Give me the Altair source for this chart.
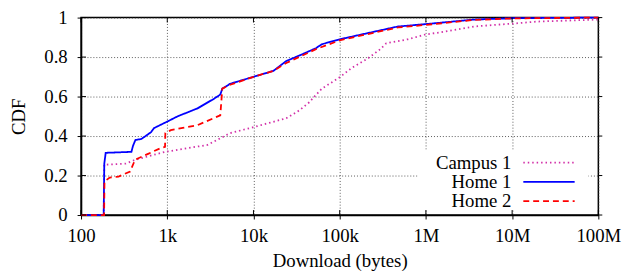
import altair as alt
import pandas as pd

# ---- data ----
home1_x = [100, 183, 186, 193, 384, 400, 427, 500, 650, 700, 1018, 1320, 2240, 3515, 4120, 4350, 5370,
           10000, 17000, 24000, 35000, 53000, 62000, 100000, 260000, 475000, 1e6, 3.6e6, 1.05e7, 1e8]
home1_y = [0, 0, 0.26, 0.315, 0.32, 0.35, 0.38, 0.385, 0.42, 0.44, 0.475, 0.50, 0.54, 0.59, 0.61, 0.64, 0.665,
           0.70, 0.73, 0.78, 0.81, 0.845, 0.865, 0.89, 0.93, 0.955, 0.967, 0.99, 0.997, 1.0]

home2_x = [100, 185, 187, 215, 272, 371, 423, 600, 847, 942, 950, 1100, 2240, 4120, 4350, 5370,
           10000, 17000, 24000, 53000, 100000, 260000, 475000, 1e6, 3.6e6, 1.05e7, 1e8]
home2_y = [0, 0, 0.17, 0.19, 0.195, 0.22, 0.28, 0.31, 0.34, 0.345, 0.415, 0.43, 0.455, 0.505, 0.64, 0.66,
           0.70, 0.73, 0.77, 0.84, 0.885, 0.925, 0.95, 0.963, 0.988, 0.996, 1.0]

campus_x = [100, 183, 186, 327, 427, 942, 2925, 5370, 10000, 24000, 34000, 44000, 62000, 98000, 138000,
            215000, 296000, 347000, 617000, 1e6, 1.48e6, 3.6e6, 1.04e7, 2e7, 1e8]
campus_y = [0, 0, 0.255, 0.26, 0.28, 0.32, 0.355, 0.415, 0.445, 0.49, 0.53, 0.57, 0.64, 0.695, 0.745,
            0.795, 0.84, 0.87, 0.89, 0.915, 0.925, 0.955, 0.97, 0.98, 0.99]

series_names = ["Campus 1", "Home 1", "Home 2"]
series_colors = ["#d22fa8", "#0000ff", "#ff0000"]
series_dash = [[1.5, 3], [1, 0], [6, 4]]

x_ticks = [100, 1000, 10000, 100000, 1e6, 1e7, 1e8]
x_labels = ["100", "1k", "10k", "100k", "1M", "10M", "100M"]
y_ticks = [0, 0.2, 0.4, 0.6, 0.8, 1.0]

FONT = "Liberation Serif"
W, H = 524, 200

rows = []
for name, xs, ys in [("Campus 1", campus_x, campus_y), ("Home 1", home1_x, home1_y), ("Home 2", home2_x, home2_y)]:
    for i, (a, b) in enumerate(zip(xs, ys)):
        rows.append({"series": name, "x": a, "y": b, "order": i})
df = pd.DataFrame(rows)

label_expr = "{" + ",".join(f"'{int(v)}':'{l}'" for v, l in zip(x_ticks, x_labels)) + "}[format(datum.value,'d')]"

xscale = alt.Scale(type="log", domain=[100, 1e8], nice=False)
yscale = alt.Scale(domain=[0, 1], nice=False)

x_axis = alt.Axis(values=x_ticks, labelExpr=label_expr, title="Download (bytes)",
                  grid=True, gridDash=[1, 2], gridColor="#333", gridWidth=0.8,
                  tickSize=4, tickColor="black", domainColor="black",
                  labelPadding=8, titlePadding=6, labelFlush=False, labelOverlap=False)
y_axis = alt.Axis(values=y_ticks, format="~g", title="CDF",
                  grid=True, gridDash=[1, 2], gridColor="#333", gridWidth=0.8,
                  tickSize=4, tickColor="black", domainColor="black",
                  labelPadding=10, titlePadding=16, labelOverlap=False, labelFlush=False)

def X():
    return alt.X("x:Q", scale=xscale, axis=x_axis)

def Y():
    return alt.Y("y:Q", scale=yscale, axis=y_axis)

lines = alt.Chart(df).mark_line(strokeWidth=1.8).encode(
    x=X(),
    y=Y(),
    color=alt.Color("series:N", scale=alt.Scale(domain=series_names, range=series_colors), legend=None),
    strokeDash=alt.StrokeDash("series:N", scale=alt.Scale(domain=series_names, range=series_dash), legend=None),
    order="order:Q",
)

# white box behind legend
box = alt.Chart(pd.DataFrame({"a": [0]})).mark_rect(color="white").encode(
    x=alt.value(341), x2=alt.value(514), y=alt.value(134), y2=alt.value(194))

# inner ticks (mirrored on all sides)
xt = pd.DataFrame({"x": x_ticks})
yt = pd.DataFrame({"y": y_ticks})
tick_bottom = alt.Chart(xt).mark_rule(color="black").encode(x=X(), y=alt.value(H), y2=alt.value(H - 5))
tick_top = alt.Chart(xt).mark_rule(color="black").encode(x=X(), y=alt.value(0), y2=alt.value(5))
tick_left = alt.Chart(yt).mark_rule(color="black").encode(y=Y(), x=alt.value(0), x2=alt.value(5))
tick_right = alt.Chart(yt).mark_rule(color="black").encode(y=Y(), x=alt.value(W), x2=alt.value(W + 4))

# manual legend (labels left of samples)
leg_layers = []
for i, (name, col, dash) in enumerate(zip(series_names, series_colors, series_dash)):
    yy = 147 + i * 19.5
    src = pd.DataFrame({"label": [name]})
    leg_layers.append(alt.Chart(src).mark_text(align="right", baseline="middle", font=FONT, fontSize=19, color="black").encode(
        text="label:N", x=alt.value(436), y=alt.value(yy)))
    leg_layers.append(alt.Chart(src).mark_rule(color=col, strokeWidth=1.8, strokeDash=dash).encode(
        x=alt.value(448), x2=alt.value(500), y=alt.value(yy)))

chart = alt.layer(lines, box, tick_bottom, tick_top, tick_left, tick_right, *leg_layers).properties(
    width=W, height=H,
    autosize=alt.AutoSizeParams(type="none"),
    padding={"left": 74, "top": 8, "right": 27, "bottom": 56},
).configure_view(stroke="black", strokeWidth=1.5).configure_axis(
    labelFont=FONT, titleFont=FONT, labelFontSize=19, titleFontSize=19,
    labelColor="black", titleColor="black", titleFontWeight="normal", domainWidth=1.5,
)

chart.save("out.html", embed_options={"renderer": "svg", "actions": False})
